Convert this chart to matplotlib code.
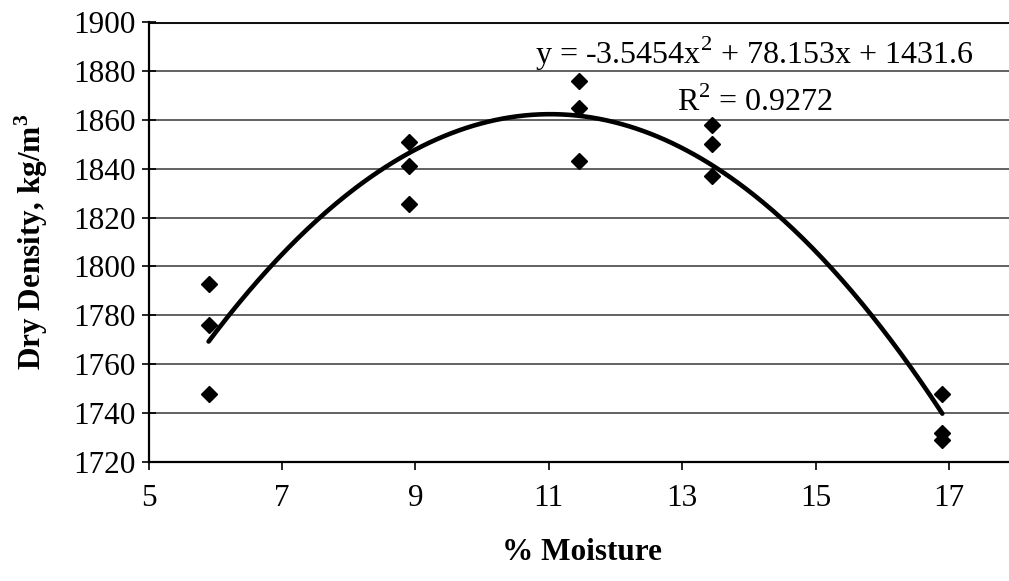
import numpy as np
import matplotlib
matplotlib.use("Agg")
import matplotlib.pyplot as plt

# Measured compaction results
moisture = [5.9, 5.9, 5.9, 8.9, 8.9, 8.9, 11.45, 11.45, 11.45, 13.45, 13.45, 13.45, 16.9, 16.9, 16.9]
density = [1793, 1776, 1748, 1851, 1841, 1825.5, 1876, 1865, 1843, 1858, 1850, 1837, 1748, 1732, 1729]

# Second-order trendline coefficients (a2, a1, a0) and fit quality
trend_coef = [-3.5454, 78.153, 1431.6]
r_squared = 0.9272

x_ticks = [5, 7, 9, 11, 13, 15, 17]
y_ticks = list(range(1720, 1901, 20))

plt.rcParams["font.family"] = ["Liberation Serif", "DejaVu Serif"]
plt.rcParams["mathtext.fontset"] = "custom"
plt.rcParams["mathtext.rm"] = "Liberation Serif"
plt.rcParams["mathtext.bf"] = "Liberation Serif:bold"

fig = plt.figure(figsize=(10.09, 5.81), dpi=100)
W, H = 1009, 581
left, right, top, bottom = 148.6, 1015.7, 22, 462
ax = fig.add_axes([left / W, 1 - bottom / H, (right - left) / W, (bottom - top) / H])

ax.set_xlim(5, 18)
ax.set_ylim(1720, 1900)

for y in y_ticks[1:]:
    ax.axhline(y, color="#555555" if y < 1900 else "#111111",
               lw=1.3 if y < 1900 else 2.2, zorder=1)

xs = np.linspace(min(moisture), max(moisture), 300)
ax.plot(xs, np.polyval(trend_coef, xs), color="black", lw=3.3,
        solid_capstyle="round", zorder=3)
ax.plot(moisture, density, linestyle="none", marker="D", color="black",
        markersize=8.5, zorder=4)

ax.set_xticks(x_ticks)
ax.set_yticks(y_ticks)
ax.tick_params(axis="both", labelsize=22.5, colors="black", width=1.2)
ax.tick_params(axis="y", direction="inout", length=10, pad=4)
ax.tick_params(axis="x", direction="out", length=6, pad=10)

for side in ("top", "right"):
    ax.spines[side].set_visible(False)
ax.spines["left"].set_linewidth(1.6)
ax.spines["bottom"].set_linewidth(1.6)

ax.set_ylabel("Dry Density, kg/m$^\\mathbf{3}$", fontsize=22.5, fontweight="bold")
ax.yaxis.label.set_va("center")
ax.yaxis.set_label_coords((31 - left) / (right - left), 0.5)
ax.set_xlabel("% Moisture", fontsize=22.5, fontweight="bold")
ax.xaxis.label.set_va("center")
ax.xaxis.set_label_coords(0.5, -(552 - bottom) / (bottom - top))

a2, a1, a0 = trend_coef
fig.text(535 / W, 1 - 64 / H, f"y = {a2:.4f}x$^2$ + {a1:.3f}x + {a0:.1f}",
         fontsize=23, ha="left", va="baseline")
fig.text(677 / W, 1 - 111 / H, f"R$^2$ = {r_squared:.4f}",
         fontsize=23, ha="left", va="baseline")

fig.savefig("out.png", dpi=100)
